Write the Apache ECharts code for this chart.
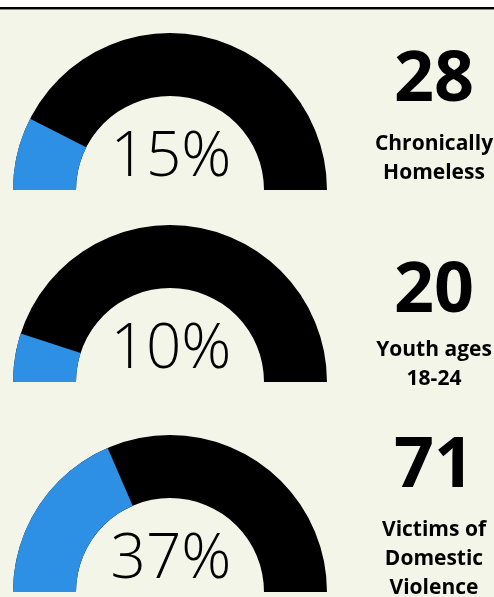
<!DOCTYPE html>
<html>
<head>
<meta charset="utf-8">
<script src="https://cdn.jsdelivr.net/npm/echarts@6/dist/echarts.min.js"></script>
<style>
html,body{margin:0;padding:0;background:#f3f5e8;}
#c{width:494px;height:597px;}
</style>
</head>
<body>
<div id="c"></div>
<script>
const percents = [15, 10, 37];
const counts = [28, 20, 71];
const labels = ['Chronically\nHomeless', 'Youth ages\n18-24', 'Victims of\nDomestic\nViolence'];

const centersY = [190, 382, 592];
const numberY = [81, 292, 467];
const labelY = [159, 365, 559];

const BLUE = '#2d90e5';
const chart = echarts.init(document.getElementById('c'), null, {renderer: 'canvas'});

const series = percents.map((p, i) => ({
  type: 'gauge',
  center: [170, centersY[i]],
  radius: 157,
  startAngle: 180,
  endAngle: 0,
  min: 0,
  max: 100,
  animation: false,
  pointer: {show: false},
  axisTick: {show: false},
  splitLine: {show: false},
  axisLabel: {show: false},
  anchor: {show: false},
  title: {show: false},
  axisLine: {roundCap: false, lineStyle: {width: 63, color: [[1, '#000000']]}},
  progress: {show: true, width: 63, roundCap: false, itemStyle: {color: BLUE}},
  detail: {
    valueAnimation: false,
    formatter: '{value}%',
    fontFamily: 'Open Sans',
    fontWeight: 350,
    fontSize: 62,
    color: '#000',
    offsetCenter: [1, -32]
  },
  data: [{value: p}]
}));

const graphics = [
  {type: 'rect', shape: {x: 0, y: 0, width: 494, height: 7}, style: {fill: '#ffffff'}},
  {type: 'rect', shape: {x: 0, y: 7, width: 494, height: 2}, style: {fill: '#000000'}},
  {type: 'rect', shape: {x: 0, y: 9, width: 494, height: 1}, style: {fill: '#8a8a85'}}
];
counts.forEach((c, i) => {
  graphics.push({
    type: 'text', x: 434, y: numberY[i],
    style: {text: String(c), fontFamily: 'Open Sans', fontWeight: 'bold', fontSize: 70,
      fill: '#000', align: 'center', verticalAlign: 'middle'}
  });
  graphics.push({
    type: 'text', x: 434, y: labelY[i],
    style: {text: labels[i], fontFamily: 'Open Sans', fontWeight: 'bold', fontSize: 21, lineHeight: 29,
      fill: '#000', align: 'center', verticalAlign: 'middle'}
  });
});

chart.setOption({
  backgroundColor: '#f3f5e8',
  animation: false,
  series: series,
  graphic: graphics
});
</script>
</body>
</html>
